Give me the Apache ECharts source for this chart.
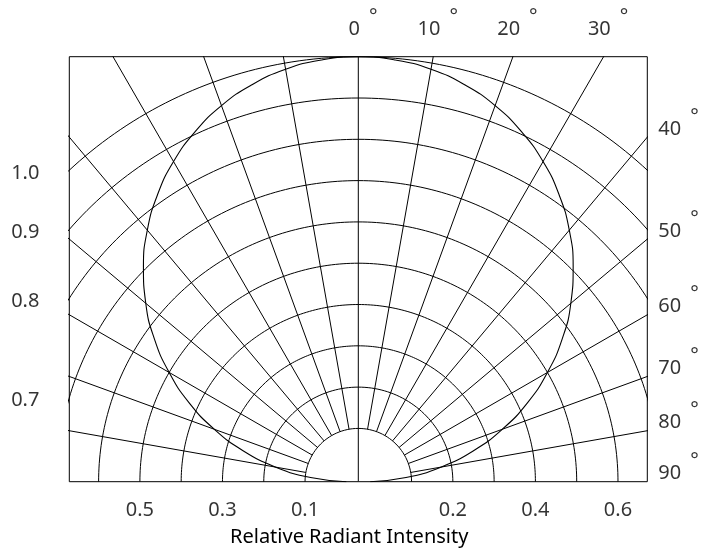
<!DOCTYPE html>
<html><head><meta charset="utf-8">
<script src="https://cdn.jsdelivr.net/npm/echarts@6/dist/echarts.min.js"></script>
<style>html,body{margin:0;padding:0;background:#fff}#c{width:715px;height:557px}</style>
</head><body><div id="c"></div>
<script>
// ---- data ----
const patternAngles = [-90,-85,-80,-75,-70,-65,-60,-55,-50,-45,-40,-35,-30,-25,-20,-15,-10,-5,0,5,10,15,20,25,30,35,40,45,50,55,60,65,70,75,80,85,90];
const patternIntensity = [0.000,0.087,0.174,0.259,0.342,0.423,0.500,0.574,0.643,0.707,0.766,0.819,0.866,0.906,0.940,0.966,0.985,0.996,1.000,0.996,0.985,0.966,0.940,0.906,0.866,0.819,0.766,0.707,0.643,0.574,0.500,0.423,0.342,0.259,0.174,0.087,0.000];
const ringValues = [0.1,0.2,0.3,0.4,0.5,0.6,0.7,0.8,0.9,1.0];
const spokeAngles = [-80,-70,-60,-50,-40,-30,-20,-10,0,10,20,30,40,50,60,70,80];
const angleTickValues = [0,10,20,30,40,50,60,70,80,90];
const angleTickLabels = ['0','10','20','30','40','50','60','70','80','90'];
const leftTickValues = [1.0,0.9,0.8,0.7];
const leftTickLabels = ['1.0','0.9','0.8','0.7'];
const bottomLeftValues = [0.5,0.3,0.1];
const bottomLeftLabels = ['0.5','0.3','0.1'];
const bottomRightValues = [0.2,0.4,0.6];
const bottomRightLabels = ['0.2','0.4','0.6'];
const xTitle = 'Relative Radiant Intensity';

// ---- chart scale ----
const R0 = 0.029;      // radius of zero intensity (inner offset of the diagram)
const XMAX = 0.7, YMAX = 1.029;
const FONT = 'Noto Sans';
function rad(v){ return R0 + v; }
function pt(v, deg){ const a = deg*Math.PI/180; const r = rad(v); return [r*Math.sin(a), r*Math.cos(a)]; }

const lineStyle = {color:'#000', width:1};
const series = [];
// rings
ringValues.forEach(v => {
  const d = [];
  for (let a = -90; a <= 90; a += 1) d.push(pt(v, a));
  series.push({type:'line', data:d, symbol:'none', lineStyle, silent:true, clip:true, z:2});
});
// spokes
spokeAngles.forEach(a => {
  const d = a === 0 ? [[0,0],[0,YMAX]] : [pt(ringValues[0], a), pt(3, a)];
  series.push({type:'line', data:d, symbol:'none', lineStyle, silent:true, clip:true, z:2});
});
// radiation pattern
series.push({type:'line', data:patternAngles.map((a,i)=>pt(patternIntensity[i], a)), symbol:'none', smooth:0.5,
  lineStyle:{color:'#000', width:1.1}, silent:true, clip:true, z:3});

// angle labels
const richDeg = {
  n:{fontSize:20, lineHeight:44, color:'#000', fontFamily:FONT},
  d:{fontSize:20, lineHeight:20, verticalAlign:'top', padding:[0,0,0,9], color:'#000', fontFamily:FONT}
};
const angleItems = angleTickValues.map((a,i) => {
  const t = Math.tan(a*Math.PI/180);
  let pos, offset;
  const txt = angleTickLabels[i];
  if (a < 90 && YMAX*t <= XMAX) {
    pos = [YMAX*t, YMAX];
    offset = [-4 - txt.length*5.85, -27.7];
  } else {
    pos = [XMAX, a >= 90 ? 0 : XMAX/t];
    offset = [11, -8];
  }
  return {value:pos, label:{formatter:'{n|'+txt+'}{d|°}', offset}};
});
series.push({type:'scatter', data:angleItems, symbolSize:1, itemStyle:{color:'rgba(0,0,0,0)'}, clip:false, silent:true,
  label:{show:true, position:'inside', align:'left', verticalAlign:'middle', rich:richDeg}});

// left intensity labels (where rings meet the left border)
const leftItems = leftTickValues.map((v,i) => {
  const r = rad(v);
  return {value:[-XMAX, Math.sqrt(r*r - XMAX*XMAX)], label:{formatter:leftTickLabels[i]}};
});
series.push({type:'scatter', data:leftItems, symbolSize:1, itemStyle:{color:'rgba(0,0,0,0)'}, clip:false, silent:true,
  label:{show:true, position:'inside', align:'center', verticalAlign:'middle', offset:[-44,3], fontSize:20, color:'#000', fontFamily:FONT}});

// bottom intensity labels
const bottomItems = bottomLeftValues.map((v,i)=>({value:[-rad(v),0], label:{formatter:bottomLeftLabels[i]}}))
  .concat(bottomRightValues.map((v,i)=>({value:[rad(v),0], label:{formatter:bottomRightLabels[i]}})));
series.push({type:'scatter', data:bottomItems, symbolSize:1, itemStyle:{color:'rgba(0,0,0,0)'}, clip:false, silent:true,
  label:{show:true, position:'inside', align:'center', verticalAlign:'middle', offset:[0,29], fontSize:20, color:'#000', fontFamily:FONT}});

const chart = echarts.init(document.getElementById('c'), null, {renderer:'canvas'});
chart.setOption({
  animation:false,
  backgroundColor:'#fff',
  title:{text:xTitle, left:225, top:522, textStyle:{fontSize:20, fontWeight:'normal', color:'#000', fontFamily:FONT}},
  grid:{left:69.3, right:67.7, top:56.7, bottom:75.3, show:true, borderColor:'#000', borderWidth:1, backgroundColor:'transparent'},
  xAxis:{type:'value', min:-XMAX, max:XMAX, show:false},
  yAxis:{type:'value', min:0, max:YMAX, show:false},
  series
});
</script></body></html>
